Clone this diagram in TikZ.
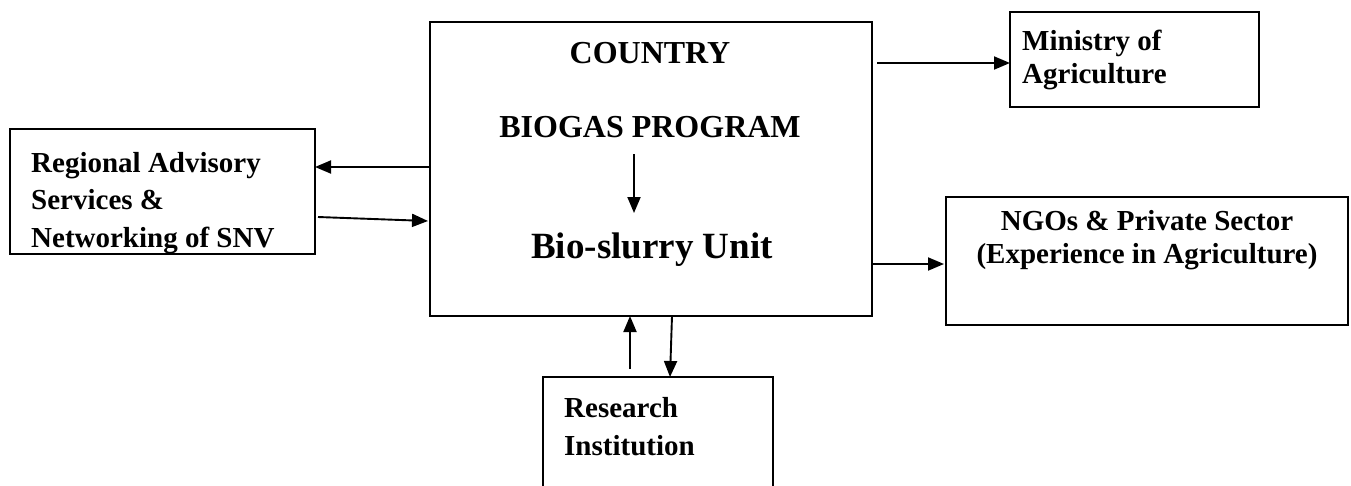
\documentclass[tikz,border=0pt]{standalone}
\usepackage{fontspec}
\setmainfont{Liberation Serif}
\usetikzlibrary{arrows.meta}
\begin{document}
\begin{tikzpicture}[x=1pt,y=-1pt,
  box/.style={draw, line width=1.9pt, inner sep=0pt, outer sep=0pt, anchor=north west},
  sidetext/.style={inner sep=0pt, font=\fontsize{29}{35}\selectfont\bfseries},
  arr/.style={line width=1.9pt, -{Triangle[length=16pt,width=13pt]}}]
\clip (0,0) rectangle (1351,485);
\useasboundingbox (0,0) rectangle (1351,485);
% boxes
\node[box, minimum width=442, minimum height=294] (main) at (430,22) {};
\node[box, minimum width=249, minimum height=95] (min) at (1010,12) {};
\node[box, minimum width=305, minimum height=125] (reg) at (10,129) {};
\node[box, minimum width=402, minimum height=128] (ngo) at (946,197) {};
\node[box, minimum width=230, minimum height=130] (res) at (543,377) {};
% main texts
\node[inner sep=0pt, anchor=base, font=\fontsize{32}{38}\selectfont\bfseries] (country) at (650,63) {COUNTRY};
\node[inner sep=0pt, anchor=base, font=\fontsize{32}{38}\selectfont\bfseries] (biogas) at (650,137) {BIOGAS PROGRAM};
\node[inner sep=0pt, anchor=base, font=\fontsize{37}{44}\selectfont\bfseries] (slurry) at (652,258) {Bio-slurry Unit};
% side texts
\node[sidetext, align=left, anchor=north west, font=\fontsize{29}{37.5}\selectfont\bfseries] (regt) at (31,152) {Regional Advisory\\Services \&\\Networking of SNV};
\node[sidetext, align=left, anchor=north west, font=\fontsize{29}{33}\selectfont\bfseries] (mint) at (1022,30) {Ministry of\\Agriculture};
\node[sidetext, align=center, anchor=north, font=\fontsize{29}{33}\selectfont\bfseries] (ngot) at (1147,210) {NGOs \& Private Sector\\(Experience in Agriculture)};
\node[sidetext, align=left, anchor=north west, font=\fontsize{29}{38}\selectfont\bfseries] (rest) at (564,397) {Research\\Institution};
% connectors
\coordinate (inA) at (634,154);
\coordinate (inB) at (634,213);
\draw[arr] (inA) -- (inB);
\draw[arr] ([xshift=5pt]main.east |- 0,63) -- (min.west |- 0,63);
\draw[arr] (main.east |- 0,264) -- ([xshift=-2pt]ngo.west |- 0,264);
\draw[arr] (main.west |- 0,167) -- (reg.east |- 0,167);
\draw[arr] ([xshift=3pt]reg.east |- 0,217) -- ([xshift=-2pt]main.west |- 0,221);
\coordinate (upS) at (630,369);
\draw[arr] (upS) -- (main.south -| upS);
\draw[arr] (main.south -| 672,0) -- (res.north -| 670,0);
\end{tikzpicture}
\end{document}
